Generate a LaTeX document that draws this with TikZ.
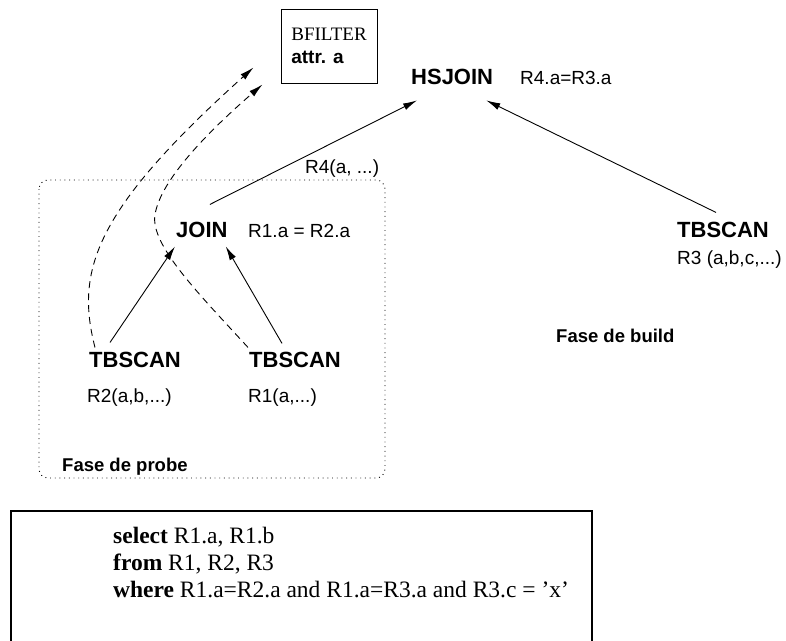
\documentclass[tikz,border=0pt]{standalone}
\usepackage{fontspec}
\setmainfont{Liberation Serif}
\setsansfont{Liberation Sans}
\usetikzlibrary{arrows.meta,calc}

\tikzset{
    op/.style={font=\sffamily\bfseries\fontsize{22}{26}\selectfont, inner sep=0pt, anchor=base west},
    rel/.style={font=\sffamily\fontsize{19}{23}\selectfont, inner sep=0pt, anchor=base west},
    phase/.style={font=\sffamily\bfseries\fontsize{18.5}{22}\selectfont, inner sep=0pt, anchor=base west},
    flow/.style={-{Latex[length=14pt,width=7pt]}, line width=0.9pt},
    bloom/.style={flow, dash pattern=on 7pt off 5pt},
}

\begin{document}
\begin{tikzpicture}[x=1pt,y=-1pt]
    \useasboundingbox (0,0) rectangle (786,640);

    % Bloom filter
    \node[draw, line width=1pt, minimum width=96pt, minimum height=74pt, align=left,
          font=\fontsize{19}{23}\selectfont] (bfilter) at (329,46)
        {BFILTER\\\textsf{\bfseries attr. a}};

    % Hash join
    \node[op] (hsjoin) at (411,84) {HSJOIN};
    \node[rel] (hscond) at (520,84) {R4.a=R3.a};

    % Probe phase
    \draw[line width=0.9pt, dash pattern=on 0.9pt off 3.8pt, rounded corners=9pt]
        (39,180) rectangle (385,478);
    \node[op] (join) at (176,237) {JOIN};
    \node[rel] (joincond) at (248,237) {R1.a = R2.a};
    \node[rel] (joinout) at (305,173) {R4(a, ...)};
    \node[op] (scanA) at (89,367) {TBSCAN};
    \node[rel] (relA) at (87,402) {R2(a,b,...)};
    \node[op] (scanB) at (249,367) {TBSCAN};
    \node[rel] (relB) at (248,402) {R1(a,...)};
    \node[phase] (probe) at (62,471) {Fase de probe};

    % Build phase
    \node[op] (scanC) at (677,237) {TBSCAN};
    \node[rel] (relC) at (677,264) {R3 (a,b,c,...)};
    \node[phase] (build) at (556,342) {Fase de build};

    % Plan edges
    \draw[flow] ($(scanA.north)+(-25,-9)$) -- ($(join.south west)+(-1,9)$);
    \draw[flow] ($(scanB.north)+(-13,-8)$) -- ($(join.south east)+(-2,9)$);
    \draw[flow] ($(join.north)+(8,-17)$) -- ($(hsjoin.south west)+(6,16)$);
    \draw[flow] ($(scanC.north)+(-7,-9)$) -- ($(hsjoin.south east)+(-7,16)$);

    % Filter feedback
    \draw[bloom] ($(scanA.north west)+(6,-4)$) .. controls (75,270) and (95,210)
        .. ($(bfilter.south west)+(-27,-16)$);
    \draw[bloom] ($(scanB.north west)+(-1,-4)$) .. controls (200,295) and (150,245)
        .. (155,215) .. controls (160,180) and (210,130)
        .. ($(bfilter.south west)+(-18,1)$);

    % Query
    \draw[line width=2.6pt] (11,511) rectangle (592,660);
    \node[anchor=north west, inner sep=0pt, align=left,
          font=\fontsize{23.5}{27}\selectfont] (query) at (113,527)
        {\textbf{select} R1.a, R1.b\\
         \textbf{from} R1, R2, R3\\
         \textbf{where} R1.a=R2.a and R1.a=R3.a and R3.c = 'x'};
\end{tikzpicture}
\end{document}
